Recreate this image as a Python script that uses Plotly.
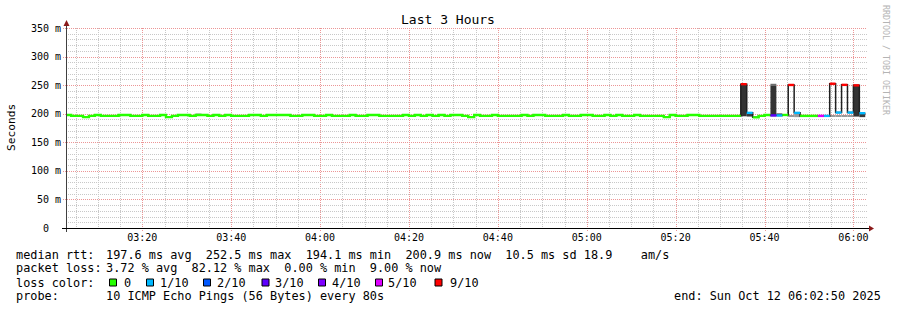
import plotly.graph_objects as go
from datetime import datetime, timedelta

# ---------------- data ----------------
title_text = "Last 3 Hours"
range_start = "2025-10-12 03:02:50"
range_end = "2025-10-12 06:02:50"
first_step = "2025-10-12 03:02:40"
step_seconds = 80

N, R, L = 196.2, 197.8, 194.1
median_ms = [
    R, N, N, L, N, R, N, N, N, R,      # 0-9
    R, N, N, R, N, N, R, L, N, R,      # 10-19
    R, N, R, R, N, R, N, R, N, N,      # 20-29
    N, R, R, N, R, R, R, R, N, N,      # 30-39
    R, R, N, N, R, N, N, N, R, N,      # 40-49
    N, R, R, N, N, N, N, R, N, R,      # 50-59
    N, R, N, R, N, R, R, N, L, R,      # 60-69
    N, N, R, N, N, N, N, R, N, R,      # 70-79
    R, N, N, N, R, N, N, R, R, N,      # 80-89
    N, R, N, R, N, N, R, N, N, N,      # 90-99
    N, L, R, N, N, R, R, N, N, N,      # 100-109
    N, N, N, N, 251.7, 201.5, 193.6, N, R, 197.0,   # 110-119
    197.0, R, 250.3, 201.5, N, N, N, 196.2, 196.2, 252.5,  # 120-129
    202.0, 250.5, 202.0, 249.6, 200.9,                     # 130-134
]
loss_tenths = [0] * 114 + [9, 1, 0, 0, 0, 3, 1, 0, 9, 1, 0, 0, 0, 5, 1, 9, 1, 9, 1, 9, 1]

smoke_steps = [22, 103, 114, 115, 119, 119, 120, 122, 123, 129, 130, 131, 132, 133, 134]
smoke_lo = [197.5, 195.6, 195.5, 195.0, 196.0, 249.3, 196.6, 194.5, 194.0, 194.5, 194.5, 194.5, 194.5, 195.0, 194.0]
smoke_hi = [201.0, 198.6, 251.7, 201.5, 249.3, 252.4, 200.6, 196.6, 199.5, 196.6, 196.6, 196.6, 196.6, 249.6, 200.9]
smoke_shade = ["#c4c4c4", "#cccccc", "#333333", "#3a3a3a", "#333333", "#6e6e6e", "#4a4a4a",
               "#9a9a9a", "#9a9a9a", "#9a9a9a", "#9a9a9a", "#9a9a9a", "#9a9a9a", "#333333", "#3a3a3a"]

loss_levels = [0, 1, 2, 3, 4, 5, 9]
loss_labels = ["0", "1/10", "2/10", "3/10", "4/10", "5/10", "9/10"]
loss_colors = ["#26ff00", "#00b8ff", "#0059ff", "#5e00ff", "#7e00ff", "#dd00ff", "#ff0000"]

y_tickvals = [0, 50, 100, 150, 200, 250, 300, 350]
y_ticktext = ["0\u00a0\u00a0", "50 m", "100 m", "150 m", "200 m", "250 m", "300 m", "350 m"]

legend_heads = ["median rtt:", "packet loss:", "loss color:", "probe:"]
legend_bodies = [
    "197.6 ms avg  252.5 ms max  194.1 ms min  200.9 ms now  10.5 ms sd 18.9    am/s",
    "3.72 % avg  82.12 % max  0.00 % min  9.00 % now",
    None,
    "10 ICMP Echo Pings (56 Bytes) every 80s",
]
legend_box_x = [109.5, 146.5, 203.5, 262, 318.5, 375.5, 435]
legend_label_x = [123.5, 160, 216.5, 275, 331.5, 388, 449.5]
end_text = "end: Sun Oct 12 06:02:50 2025"
row_y = [254.5, 268.0, 282.5, 296.0]

# ---------------- geometry helpers ----------------
PL, PR, PT, PB = 66, 866, 28, 228
W, H = 897, 310
Y_MAX = 350
def fx(px):
    return (px - PL) / (PR - PL)
def fy(py):
    return (PB - py) / (PB - PT)

MONO = "DejaVu Sans Mono"
LEG_SIZE = 11.85
t0 = datetime.strptime(first_step, "%Y-%m-%d %H:%M:%S")
n = len(median_ms)
starts = [t0 + timedelta(seconds=step_seconds * i) for i in range(n + 1)]

x_lo = datetime.strptime(range_start, "%Y-%m-%d %H:%M:%S")
x_hi = datetime.strptime(range_end, "%Y-%m-%d %H:%M:%S")
span_s = (x_hi - x_lo).total_seconds()

def time_px(t):
    return PL + (t - x_lo).total_seconds() / span_s * (PR - PL)
def val_px(v):
    return PB - v / Y_MAX * (PB - PT)

fig = go.Figure()

# smoke
fig.add_trace(go.Bar(
    x=[starts[i] + timedelta(seconds=step_seconds / 2) for i in smoke_steps],
    y=[h - l for l, h in zip(smoke_lo, smoke_hi)],
    base=smoke_lo,
    width=[step_seconds * 1000] * len(smoke_steps),
    marker=dict(color=smoke_shade, line=dict(width=0)),
    hoverinfo="skip", showlegend=False,
))

# thin dark median line
fig.add_trace(go.Scatter(
    x=starts, y=median_ms + [median_ms[-1]], mode="lines",
    line=dict(color="#202020", width=1.5, shape="hv"),
    hoverinfo="skip", showlegend=False,
))

# loss-coloured median
for lvl, col in zip(loss_levels, loss_colors):
    xs, ys = [], []
    i = 0
    while i < n:
        if loss_tenths[i] == lvl:
            j = i
            while j + 1 < n and loss_tenths[j + 1] == lvl:
                j += 1
            for k in range(i, j + 1):
                xs.append(starts[k]); ys.append(median_ms[k])
            xs.append(starts[j + 1]); ys.append(median_ms[j])
            xs.append(None); ys.append(None)
            i = j + 1
        else:
            i += 1
    if xs:
        fig.add_trace(go.Scatter(
            x=xs, y=ys, mode="lines", connectgaps=False,
            line=dict(color=col, width=2.4, shape="hv"),
            hoverinfo="skip", showlegend=False,
        ))

shapes = []
MAJOR_GRID = "rgb(236,150,150)"
MINOR_GRID = "rgb(200,200,200)"

# pixel-snapped dotted grid (rrdtool style)
t = datetime(2025, 10, 12, 3, 5)
while t < x_hi:
    if t > x_lo:
        major = (t.minute % 20 == 0)
        cx = round(time_px(t)) + 0.5
        shapes.append(dict(type="line", xref="paper", yref="paper", layer="below",
                           x0=fx(cx), x1=fx(cx), y0=fy(PT), y1=fy(PB + (3 if major else 0)),
                           line=dict(color=MAJOR_GRID if major else MINOR_GRID, width=1, dash="1px,1px")))
    t += timedelta(minutes=5)
for v in range(10, Y_MAX + 1, 10):
    major = (v % 50 == 0)
    cy = round(val_px(v)) + 0.5
    shapes.append(dict(type="line", xref="paper", yref="paper", layer="below",
                       x0=fx(PL - (3 if major else 0)), x1=fx(PR + 1), y0=fy(cy), y1=fy(cy),
                       line=dict(color=MAJOR_GRID if major else MINOR_GRID, width=1, dash="1px,1px")))

# axes lines and arrows
shapes.append(dict(type="line", xref="paper", yref="paper", x0=fx(66.5), x1=fx(66.5), y0=fy(232), y1=fy(22),
                   line=dict(color="#404040", width=1)))
shapes.append(dict(type="line", xref="paper", yref="paper", x0=fx(62), x1=fx(869), y0=fy(228.5), y1=fy(228.5),
                   line=dict(color="#000000", width=1)))
shapes.append(dict(type="path", xref="paper", yref="paper",
                   path=f"M {fx(63.5)} {fy(26)} L {fx(69.5)} {fy(26)} L {fx(66.5)} {fy(20)} Z",
                   fillcolor="#8b1a1a", line=dict(width=0)))
shapes.append(dict(type="path", xref="paper", yref="paper",
                   path=f"M {fx(869)} {fy(225.5)} L {fx(869)} {fy(231.5)} L {fx(874)} {fy(228.5)} Z",
                   fillcolor="#8b1a1a", line=dict(width=0)))
# legend colour boxes
for bx, col in zip(legend_box_x, loss_colors):
    shapes.append(dict(type="rect", xref="paper", yref="paper",
                       x0=fx(bx), x1=fx(bx + 7), y0=fy(row_y[2] + 3.5), y1=fy(row_y[2] - 3.5),
                       fillcolor=col, line=dict(color="#000000", width=1)))

annotations = []
def ann(px, py, text, size=LEG_SIZE, xanchor="left", color="#000000", angle=0):
    annotations.append(dict(x=fx(px), y=fy(py), xref="paper", yref="paper",
                            text=text.replace(" ", "\u00a0"),
                            showarrow=False, xanchor=xanchor, yanchor="middle",
                            textangle=angle, borderpad=0, borderwidth=0,
                            font=dict(family=MONO, size=size, color=color)))

for r in range(4):
    ann(16, row_y[r], legend_heads[r])
    if legend_bodies[r]:
        ann(106, row_y[r], legend_bodies[r])
for lx, lab in zip(legend_label_x, loss_labels):
    ann(lx, row_y[2], lab)
ann(881, row_y[3], end_text, xanchor="right")
ann(11, 127, "Seconds", size=11.2, xanchor="center", angle=-90)
ann(886, 60, "RRDTOOL / TOBI OETIKER", size=8.3, xanchor="center", color="#b4b4b4", angle=90)

fig.update_layout(
    width=W, height=H, autosize=False,
    margin=dict(l=PL, r=W - PR, t=PT, b=H - PB),
    paper_bgcolor="#ffffff", plot_bgcolor="#ffffff",
    barmode="overlay", showlegend=False, hovermode=False,
    title=dict(text=title_text, x=448 / W, xanchor="center", y=1 - 19 / H, yanchor="middle",
               yref="container", font=dict(family=MONO, size=13, color="#000000")),
    shapes=shapes, annotations=annotations,
    xaxis=dict(
        type="date", range=[range_start, range_end],
        tick0=datetime(2025, 10, 12, 3, 20), dtick=20 * 60 * 1000, tickformat="%H:%M",
        showgrid=False, showline=False, zeroline=False, ticks="", ticklabelstandoff=2,
        tickfont=dict(family=MONO, size=10, color="#000000"),
    ),
    yaxis=dict(
        range=[0, Y_MAX], tickvals=y_tickvals, ticktext=y_ticktext,
        showgrid=False, showline=False, zeroline=False, ticks="", ticklabelstandoff=4,
        tickfont=dict(family=MONO, size=10, color="#000000"),
    ),
)

fig.write_html("out.html")
